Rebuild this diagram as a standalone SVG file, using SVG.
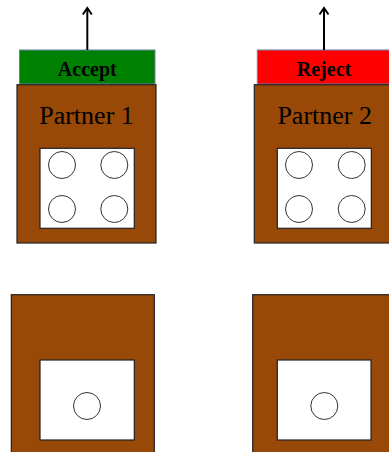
<svg xmlns="http://www.w3.org/2000/svg" width="389" height="452" viewBox="0 0 389 452">
<defs>
<style>
.partner{fill:#984807;stroke:#222;stroke-width:1.2}
.tray{fill:#fff;stroke:#222;stroke-width:1.2}
.slot{fill:#fff;stroke:#333;stroke-width:1}
.btn{stroke:#6C7FB0;stroke-width:1}
.btxt{font-family:"Liberation Serif",serif;font-weight:bold;font-size:20px;text-anchor:middle;fill:#000}
.ptxt{font-family:"Liberation Serif",serif;font-size:26px;text-anchor:middle;fill:#000}
.arrow{stroke:#000;stroke-width:2;fill:none}
</style>
<marker id="ah" markerWidth="12" markerHeight="12" refX="9" refY="6" orient="auto" markerUnits="userSpaceOnUse" viewBox="0 0 12 12">
<polyline points="2.5,1.5 9,6 2.5,10.5" fill="none" stroke="#000" stroke-width="2"/>
</marker>
</defs>
<g id="partner1">
<rect class="btn" x="19.5" y="50" width="135.5" height="34" fill="#008000"/>
<text class="btxt" x="87.3" y="76">Accept</text>
<rect class="partner" x="17" y="84.7" width="139" height="158.3"/>
<text class="ptxt" x="86.5" y="124">Partner 1</text>
<rect class="tray" x="40" y="148.3" width="94.3" height="80"/>
<circle class="slot" cx="62" cy="165" r="13.5"/>
<circle class="slot" cx="114.3" cy="165" r="13.5"/>
<circle class="slot" cx="62" cy="209" r="13.5"/>
<circle class="slot" cx="114.3" cy="209" r="13.5"/>
</g>
<g id="partner2">
<rect class="btn" x="257.3" y="50" width="136" height="34" fill="#FF0000"/>
<text class="btxt" x="324" y="76">Reject</text>
<rect class="partner" x="254.3" y="84.7" width="139" height="158.3"/>
<text class="ptxt" x="324.7" y="124">Partner 2</text>
<rect class="tray" x="277.3" y="148.3" width="94" height="80"/>
<circle class="slot" cx="299" cy="165" r="13.5"/>
<circle class="slot" cx="351.7" cy="165" r="13.5"/>
<circle class="slot" cx="299" cy="209" r="13.5"/>
<circle class="slot" cx="351.7" cy="209" r="13.5"/>
</g>
<g id="partner3">
<rect class="partner" x="11.3" y="294.7" width="143" height="162"/>
<rect class="tray" x="40" y="360" width="94.3" height="80"/>
<circle class="slot" cx="87" cy="406" r="13.5"/>
</g>
<g id="partner4">
<rect class="partner" x="252.7" y="294.7" width="143" height="162"/>
<rect class="tray" x="277.3" y="360" width="93.7" height="80"/>
<circle class="slot" cx="324.3" cy="406" r="13.5"/>
</g>
<g id="connectors">
<line class="arrow" x1="87.3" y1="50" x2="87.3" y2="8" marker-end="url(#ah)"/>
<line class="arrow" x1="324" y1="50" x2="324" y2="8" marker-end="url(#ah)"/>
</g>
</svg>
